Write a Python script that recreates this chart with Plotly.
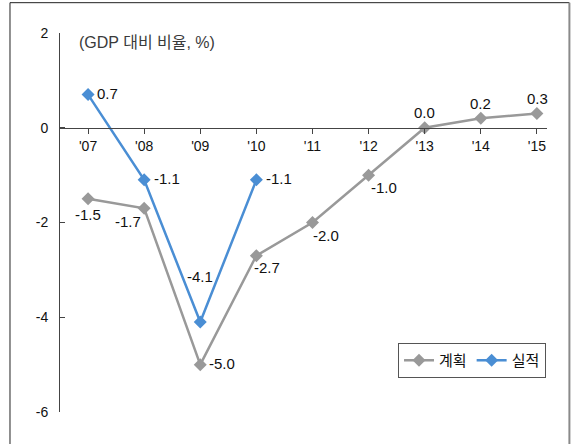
import plotly.graph_objects as go

# 연도별 재정수지 (GDP 대비 비율, %)
years = ["'07", "'08", "'09", "'10", "'11", "'12", "'13", "'14", "'15"]
plan = [-1.5, -1.7, -5.0, -2.7, -2.0, -1.0, 0.0, 0.2, 0.3]
actual_years = ["'07", "'08", "'09", "'10"]
actual = [0.7, -1.1, -4.1, -1.1]
y_ticks = [2, 0, -2, -4, -6]

GRAY = "#999999"
BLUE = "#4A8ED4"
FONT = "Liberation Sans, Arial, Noto Sans CJK KR, sans-serif"

# 라벨 배치 (xshift, yshift, xanchor)
plan_label_pos = [(0, -16, "center"), (-16, -13, "center"), (7, 1, "left"),
                  (11, -12, "center"), (14, -13, "center"), (15, -12, "center"),
                  (0, 15, "center"), (0, 15, "center"), (1, 15, "center")]
actual_label_pos = [(7, 1, "left"), (8, 1, "left"), (0, 45, "center"), (8, 1, "left")]

fig = go.Figure()
fig.add_trace(go.Scatter(
    x=years, y=plan, name="계획", mode="lines+markers",
    line=dict(color=GRAY, width=2.5),
    marker=dict(symbol="diamond", size=10, color=GRAY),
))
fig.add_trace(go.Scatter(
    x=actual_years, y=actual, name="실적", mode="lines+markers",
    line=dict(color=BLUE, width=2.5),
    marker=dict(symbol="diamond", size=10, color=BLUE),
))

annotations = []
for xv, yv, (dx, dy, anc) in zip(years, plan, plan_label_pos):
    annotations.append(dict(x=xv, y=yv, text=f"{yv:.1f}", showarrow=False,
                            xshift=dx, yshift=dy, xanchor=anc, yanchor="middle",
                            font=dict(size=15, color="#111111", family=FONT)))
for xv, yv, (dx, dy, anc) in zip(actual_years, actual, actual_label_pos):
    annotations.append(dict(x=xv, y=yv, text=f"{yv:.1f}", showarrow=False,
                            xshift=dx, yshift=dy, xanchor=anc, yanchor="middle",
                            font=dict(size=15, color="#111111", family=FONT)))
annotations.append(dict(x=0.035, y=0.974, xref="paper", yref="paper",
                        text="(GDP 대비 비율, %)", showarrow=False,
                        xanchor="left", yanchor="middle",
                        font=dict(size=16, color="#3a3a3a", family=FONT)))

# 바깥 테두리
shapes = [
    dict(type="line", xref="paper", yref="paper", x0=-0.1027, x1=-0.1027, y0=1.08, y1=-0.2,
         line=dict(color="#222222", width=1)),
    dict(type="line", xref="paper", yref="paper", x0=-0.1027, x1=1.046, y0=1.08, y1=1.08,
         line=dict(color="#222222", width=1)),
    dict(type="line", xref="paper", yref="paper", x0=1.046, x1=1.046, y0=1.08, y1=-0.2,
         line=dict(color="#8a8a8a", width=2)),
]

fig.update_layout(
    width=573, height=444,
    margin=dict(l=60, r=26, t=33, b=32),
    paper_bgcolor="white", plot_bgcolor="white",
    font=dict(family=FONT, size=14, color="#111111"),
    showlegend=True,
    legend=dict(orientation="h", x=0.998, xanchor="right", y=0.182, yanchor="top",
                bordercolor="#555555", borderwidth=1, bgcolor="white",
                font=dict(size=15, family=FONT), itemwidth=30,
                tracegroupgap=0),
    annotations=annotations,
    shapes=shapes,
    xaxis=dict(
        type="category", categoryorder="array", categoryarray=years,
        range=[-0.5, 8.18], anchor="free", position=(0 - (-6)) / 8,
        showline=True, linecolor="#444444", linewidth=1,
        ticks="outside", ticklen=5, tickcolor="#444444",
        showgrid=False, zeroline=False,
        tickfont=dict(size=14, family=FONT, color="#111111"),
    ),
    yaxis=dict(
        range=[-6, 2], tickvals=y_ticks, ticktext=[str(v) for v in y_ticks],
        showline=True, linecolor="#444444", linewidth=1,
        ticks="inside", ticklen=5, tickcolor="#444444",
        showgrid=False, zeroline=False, ticklabelstandoff=8,
        tickfont=dict(size=14, family=FONT, color="#111111"),
    ),
)

fig.write_html("out.html")
